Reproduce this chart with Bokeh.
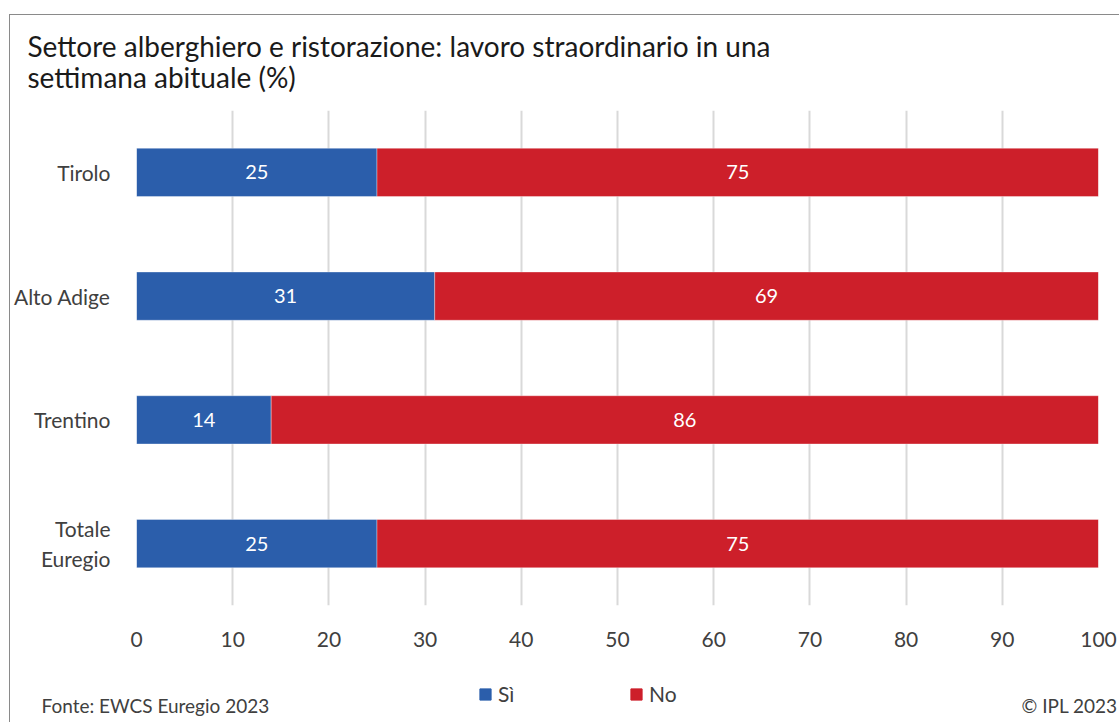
from bokeh.plotting import figure
from bokeh.layouts import column
from bokeh.models import (ColumnDataSource, Label, Legend, LegendItem, FactorRange,
                          Range1d, FixedTicker)
from bokeh.embed import file_html
from bokeh.resources import INLINE
from bokeh.core.properties import value

# ---- data ----
categories = ["Tirolo", "Alto Adige", "Trentino", "Totale\nEuregio"]
si = [25, 31, 14, 25]
no = [75, 69, 86, 75]
series = ["Sì", "No"]
colors = ["#2B5EAB", "#CD1F2A"]
x_ticks = [0, 10, 20, 30, 40, 50, 60, 70, 80, 90, 100]
title_lines = ["Settore alberghiero e ristorazione: lavoro straordinario in una",
               "settimana abituale (%)"]
source_text = "Fonte: EWCS Euregio 2023"
copyright_text = "© IPL 2023"

FONT = "Lato"
TXT = "#404040"
W = 1109
NAN = float("nan")


def blank(h):
    f = figure(width=W, height=h, x_range=Range1d(0, W), y_range=Range1d(0, h),
               output_backend="svg", toolbar_location=None, frame_align=False,
               min_border=0, min_border_left=0, min_border_right=0,
               min_border_top=0, min_border_bottom=0)
    f.xaxis.visible = False
    f.yaxis.visible = False
    f.xgrid.visible = False
    f.ygrid.visible = False
    f.outline_line_color = None
    return f


# ---- header (title) ----
head = blank(90)
head.add_layout(Label(x=17, y=60, x_units="screen", y_units="screen", text=title_lines[0],
                      text_font=FONT, text_font_size="28px", text_color="#1a1a1a",
                      text_baseline="alphabetic"))
head.add_layout(Label(x=17, y=29, x_units="screen", y_units="screen", text=title_lines[1],
                      text_font=FONT, text_font_size="28px", text_color="#1a1a1a",
                      text_baseline="alphabetic"))

# ---- main chart ----
p = figure(width=W, height=560,
           y_range=FactorRange(*reversed(categories)),
           x_range=Range1d(0, 100),
           output_backend="svg", toolbar_location=None, frame_align=False,
           min_border_left=126, min_border_right=21,
           min_border_top=5, min_border_bottom=60)
p.outline_line_color = None

src = ColumnDataSource(dict(cat=categories, si=si, no=no))
p.hbar_stack(["si", "no"], y="cat", height=0.39, source=src,
             color=colors, line_color="white", line_alpha=0.35, line_width=1)

lab_cat, lab_x, lab_t = [], [], []
for c, a, b in zip(categories, si, no):
    lab_cat += [c, c]
    lab_x += [a / 2, a + b / 2]
    lab_t += [str(a), str(b)]
p.text(x=lab_x, y=lab_cat, text=lab_t, text_color="white",
       text_font=value(FONT), text_font_size="20px",
       text_align="center", text_baseline="middle")

p.xaxis.ticker = FixedTicker(ticks=x_ticks)
p.xaxis.axis_line_color = None
p.xaxis.major_tick_line_color = None
p.xaxis.minor_tick_line_color = None
p.xaxis.major_label_text_font = FONT
p.xaxis.major_label_text_font_size = "21px"
p.xaxis.major_label_text_color = TXT
p.xaxis.major_label_standoff = 20

p.yaxis.axis_line_color = None
p.yaxis.major_tick_line_color = None
p.yaxis.minor_tick_line_color = None
p.yaxis.major_label_text_font = FONT
p.yaxis.major_label_text_font_size = "21px"
p.yaxis.major_label_text_color = TXT
p.yaxis.major_label_standoff = 20

p.xgrid.grid_line_color = "#d9d9d9"
p.xgrid.grid_line_width = 2
p.ygrid.grid_line_color = None

# ---- footer (legend + source) ----
foot = blank(57)
leg_r = [foot.quad(left=[NAN], right=[NAN], top=[NAN], bottom=[NAN], color=c)
         for c in colors]
legend = Legend(items=[LegendItem(label=s, renderers=[r]) for s, r in zip(series, leg_r)],
                orientation="horizontal", location=(468, 16),
                glyph_width=14, glyph_height=14, label_height=14,
                label_standoff=6, label_width=110, spacing=21,
                padding=0, margin=0, border_line_color=None,
                background_fill_alpha=0,
                label_text_font=FONT, label_text_font_size="21px",
                label_text_color=TXT, label_text_baseline="middle")
foot.add_layout(legend, "center")
foot.add_layout(Label(x=31, y=17, x_units="screen", y_units="screen", text=source_text,
                      text_font=FONT, text_font_size="19px", text_color=TXT,
                      text_baseline="alphabetic"))
foot.add_layout(Label(x=1011, y=17, x_units="screen", y_units="screen", text=copyright_text,
                      text_font=FONT, text_font_size="19px", text_color=TXT,
                      text_baseline="alphabetic"))

layout = column(head, p, foot, spacing=0)
layout.margin = (14, 0, 0, 9)
layout.styles = {"border-left": "1px solid #8a8a8a", "border-top": "1px solid #8a8a8a"}

open("out.html", "w").write(file_html(layout, INLINE))
